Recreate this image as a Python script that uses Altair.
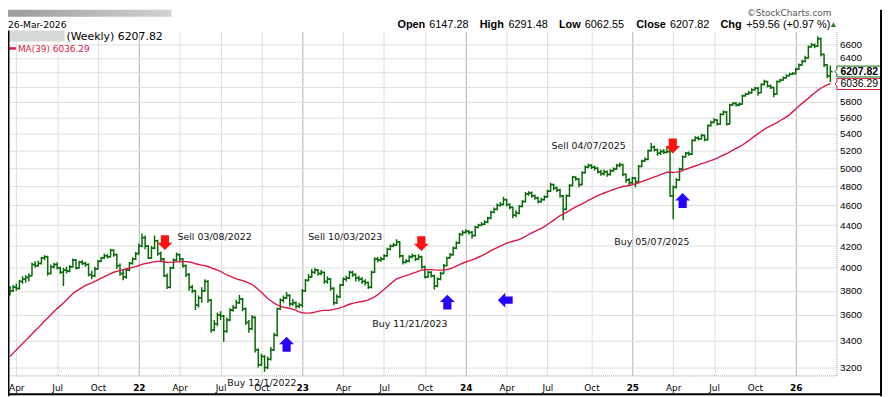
import altair as alt
import pandas as pd

# ---------------- data (weekly bars, weeks starting 2021-03-22) ----------------
start_week = "2021-03-22"

opens = [
    3780, 3800, 3830, 3820, 3880, 3900, 3915, 3930, 4030, 4020,
    4040, 4090, 4100, 3950, 4010, 4030, 4000, 3960, 3980, 3970,
    4010, 4070, 4000, 4050, 4040, 4030, 3940, 3930, 3990, 4060,
    4090, 4110, 4100, 4160, 4120, 4020, 3950, 3920, 3980, 4040,
    4080, 4130, 4200, 4280, 4200, 4090, 4180, 4250, 4130, 4080,
    3930, 3830, 4000, 4070, 4120, 4080, 4020, 3940, 3830, 3800,
    3680, 3740, 3800, 3880, 3720, 3480, 3530, 3600, 3590, 3470,
    3560, 3640, 3660, 3700, 3730, 3650, 3540, 3490, 3580, 3330,
    3220, 3280, 3200, 3260, 3330, 3440, 3650, 3720, 3740, 3760,
    3690, 3700, 3670, 3680, 3800, 3890, 3920, 3960, 3980, 3950,
    3960, 3880, 3900, 3820, 3700, 3750, 3850, 3900, 3910, 3960,
    3940, 3910, 3900, 3880, 3870, 3830, 3960, 4080, 4070, 4080,
    4110, 4170, 4200, 4210, 4240, 4110, 4050, 4060, 4100, 4110,
    4080, 4100, 4010, 3920, 3960, 3930, 3840, 3900, 3950, 4020,
    4090, 4120, 4180, 4230, 4310, 4330, 4340, 4330, 4300, 4380,
    4400, 4410, 4430, 4470, 4530, 4560, 4600, 4610, 4660, 4610,
    4580, 4500, 4520, 4590, 4640, 4720, 4730, 4700, 4680, 4640,
    4660, 4690, 4750, 4820, 4780, 4760, 4700, 4560, 4700, 4810,
    4900, 4880, 4820, 4950, 5010, 5030, 5010, 5000, 4960, 4940,
    4960, 4930, 4970, 4990, 5030, 5040, 4930, 4870, 4840, 4890,
    4850, 5020, 5080, 5100, 5200, 5240, 5210, 5170, 5190, 5180,
    5190, 4700, 4790, 4870, 4990, 5130, 5170, 5160, 5320, 5350,
    5340, 5380, 5330, 5500, 5540, 5570, 5520, 5640, 5670, 5520,
    5760, 5780, 5760, 5770, 5880, 5900, 5920, 5960, 5980, 5920,
    6030, 6070, 6010, 5990, 5900, 6070, 6090, 6120, 6150, 6170,
    6180, 6240, 6300, 6350, 6400, 6560, 6590, 6570, 6680, 6450,
    6300, 6147.28,
]
highs = [
    3840, 3850, 3860, 3895, 3925, 3935, 3950, 4045, 4060, 4065,
    4100, 4115, 4110, 4030, 4045, 4050, 4010, 4000, 4010, 4025,
    4085, 4080, 4065, 4070, 4055, 4040, 3975, 4010, 4070, 4100,
    4130, 4125, 4175, 4170, 4130, 4040, 3990, 4000, 4055, 4095,
    4145, 4225, 4320, 4300, 4210, 4200, 4300, 4260, 4150, 4090,
    3950, 4010, 4085, 4140, 4130, 4090, 4030, 3955, 3850, 3810,
    3760, 3830, 3900, 3890, 3730, 3560, 3620, 3630, 3600, 3580,
    3655, 3680, 3725, 3765, 3740, 3660, 3560, 3600, 3590, 3340,
    3300, 3290, 3280, 3350, 3460, 3660, 3735, 3760, 3790, 3770,
    3730, 3710, 3700, 3815, 3900, 3945, 3990, 4000, 3990, 3980,
    3965, 3925, 3910, 3830, 3770, 3860, 3915, 3930, 3975, 3975,
    3950, 3930, 3920, 3900, 3880, 3975, 4095, 4100, 4100, 4125,
    4185, 4215, 4230, 4265, 4245, 4120, 4080, 4115, 4130, 4120,
    4125, 4110, 4020, 3975, 3970, 3940, 3915, 3965, 4035, 4100,
    4135, 4195, 4245, 4325, 4350, 4360, 4355, 4345, 4395, 4415,
    4430, 4450, 4485, 4545, 4580, 4620, 4635, 4690, 4670, 4620,
    4590, 4550, 4605, 4655, 4740, 4750, 4745, 4715, 4690, 4680,
    4705, 4765, 4840, 4830, 4800, 4775, 4710, 4715, 4825, 4915,
    4910, 4890, 4965, 5030, 5050, 5045, 5030, 5010, 4980, 4985,
    4975, 4990, 5010, 5050, 5060, 5050, 4940, 4890, 4905, 4900,
    5035, 5095, 5120, 5215, 5290, 5260, 5225, 5215, 5220, 5240,
    5215, 4810, 4890, 5005, 5145, 5185, 5190, 5335, 5370, 5370,
    5400, 5390, 5515, 5560, 5590, 5580, 5655, 5690, 5680, 5775,
    5800, 5800, 5795, 5895, 5920, 5945, 5980, 6000, 5995, 6045,
    6095, 6080, 6030, 6000, 6085, 6110, 6140, 6170, 6190, 6200,
    6260, 6320, 6375, 6430, 6580, 6620, 6610, 6720, 6700, 6460,
    6310, 6291.48,
]
lows = [
    3760, 3790, 3800, 3810, 3860, 3870, 3880, 3925, 4000, 4010,
    4030, 4070, 3930, 3940, 3995, 3985, 3945, 3840, 3950, 3960,
    4000, 3985, 3995, 4025, 4010, 3925, 3900, 3920, 3985, 4050,
    4080, 4085, 4095, 4100, 3990, 3930, 3890, 3905, 3970, 4030,
    4070, 4120, 4190, 4170, 4080, 4080, 4170, 4110, 4060, 3920,
    3815, 3820, 3990, 4060, 4060, 4000, 3920, 3800, 3780, 3640,
    3660, 3700, 3790, 3700, 3460, 3470, 3510, 3560, 3390, 3460,
    3550, 3625, 3650, 3690, 3630, 3520, 3460, 3480, 3310, 3200,
    3210, 3170, 3190, 3250, 3320, 3430, 3640, 3700, 3730, 3670,
    3675, 3650, 3655, 3660, 3790, 3880, 3910, 3945, 3930, 3935,
    3860, 3860, 3800, 3680, 3690, 3740, 3840, 3880, 3900, 3920,
    3880, 3880, 3860, 3845, 3815, 3820, 3955, 4050, 4055, 4070,
    4100, 4160, 4190, 4200, 4090, 4030, 4040, 4050, 4085, 4060,
    4070, 3990, 3905, 3910, 3915, 3810, 3830, 3890, 3945, 4015,
    4085, 4110, 4170, 4220, 4300, 4320, 4310, 4270, 4290, 4370,
    4390, 4400, 4420, 4460, 4520, 4550, 4590, 4600, 4590, 4560,
    4470, 4480, 4510, 4580, 4630, 4700, 4680, 4660, 4620, 4625,
    4650, 4680, 4740, 4760, 4740, 4680, 4450, 4550, 4690, 4800,
    4860, 4790, 4810, 4940, 5000, 4990, 4975, 4940, 4915, 4920,
    4905, 4920, 4960, 4980, 5010, 4910, 4840, 4810, 4820, 4790,
    4840, 5010, 5070, 5090, 5190, 5190, 5140, 5150, 5160, 5170,
    4690, 4460, 4780, 4860, 4980, 5120, 5140, 5150, 5310, 5320,
    5330, 5310, 5320, 5490, 5530, 5500, 5510, 5630, 5500, 5515,
    5750, 5740, 5745, 5765, 5870, 5890, 5910, 5950, 5880, 5915,
    6020, 5990, 5970, 5860, 5895, 6060, 6080, 6110, 6140, 6160,
    6170, 6230, 6290, 6340, 6390, 6550, 6540, 6560, 6420, 6270,
    6120, 6062.55,
]
closes = [
    3800, 3830, 3820, 3880, 3900, 3915, 3930, 4030, 4020, 4040,
    4090, 4100, 3950, 4010, 4030, 4000, 3960, 3980, 3970, 4010,
    4070, 4000, 4050, 4040, 4030, 3940, 3930, 3990, 4060, 4090,
    4110, 4100, 4160, 4120, 4020, 3950, 3920, 3980, 4040, 4080,
    4130, 4200, 4280, 4200, 4090, 4180, 4250, 4130, 4080, 3930,
    3830, 4000, 4070, 4120, 4080, 4020, 3940, 3830, 3800, 3680,
    3740, 3800, 3880, 3720, 3480, 3530, 3600, 3590, 3470, 3560,
    3640, 3660, 3700, 3730, 3650, 3540, 3490, 3580, 3330, 3220,
    3280, 3200, 3260, 3330, 3440, 3650, 3720, 3740, 3760, 3690,
    3700, 3670, 3680, 3800, 3890, 3920, 3960, 3980, 3950, 3960,
    3880, 3900, 3820, 3700, 3750, 3850, 3900, 3910, 3960, 3940,
    3910, 3900, 3880, 3870, 3830, 3960, 4080, 4070, 4080, 4110,
    4170, 4200, 4210, 4240, 4110, 4050, 4060, 4100, 4110, 4080,
    4100, 4010, 3920, 3960, 3930, 3840, 3900, 3950, 4020, 4090,
    4120, 4180, 4230, 4310, 4330, 4340, 4330, 4300, 4380, 4400,
    4410, 4430, 4470, 4530, 4560, 4600, 4610, 4660, 4610, 4580,
    4500, 4520, 4590, 4640, 4720, 4730, 4700, 4680, 4640, 4660,
    4690, 4750, 4820, 4780, 4760, 4700, 4560, 4700, 4810, 4900,
    4880, 4820, 4950, 5010, 5030, 5010, 5000, 4960, 4940, 4960,
    4930, 4970, 4990, 5030, 5040, 4930, 4870, 4840, 4890, 4850,
    5020, 5080, 5100, 5200, 5240, 5210, 5170, 5190, 5180, 5190,
    4700, 4790, 4870, 4990, 5130, 5170, 5160, 5320, 5350, 5340,
    5380, 5330, 5500, 5540, 5570, 5520, 5640, 5670, 5520, 5760,
    5780, 5760, 5770, 5880, 5900, 5920, 5960, 5980, 5920, 6030,
    6070, 6010, 5990, 5900, 6070, 6090, 6120, 6150, 6170, 6180,
    6240, 6300, 6350, 6400, 6560, 6590, 6570, 6680, 6450, 6300,
    6148.26, 6207.82,
]
# 38 weekly closes before the first visible bar (only feed the 39-week MA)
warmup_closes = [
    2880, 2910, 2950, 2940, 2980, 3010, 3030, 3060, 3080, 3110,
    3050, 3000, 2990, 3040, 3060, 3080, 3020, 3050, 2950, 3010,
    3300, 3360, 3390, 3420, 3450, 3470, 3510, 3530, 3540, 3580,
    3600, 3620, 3660, 3690, 3640, 3700, 3720, 3760,
]

# axis ticks (first weekly bar of Apr / Jul / Oct / Jan)
month_ticks = [
    "2021-04-05", "2021-07-05", "2021-10-04", "2022-01-03", "2022-04-04",
    "2022-07-04", "2022-10-03", "2023-01-02", "2023-04-03", "2023-07-03",
    "2023-10-02", "2024-01-01", "2024-04-01", "2024-07-01", "2024-10-07",
    "2025-01-06", "2025-04-07", "2025-07-07", "2025-10-06", "2026-01-05",
]
price_ticks = [3200, 3400, 3600, 3800, 4000, 4200, 4400, 4600, 4800,
               5000, 5200, 5400, 5600, 5800, 6000, 6200, 6400, 6600]
hidden_price_labels = [6000, 6200]   # covered by the value tags in the original
x_domain = ["2021-03-17T14:00:00", "2026-04-05T12:30:00"]
y_domain = [3144, 6789]

# signal arrows
arrow_dates = ["2022-03-02", "2023-09-24", "2023-11-21", "2024-03-29",
               "2022-11-28", "2025-04-06", "2025-04-28"]
arrow_values = [4232, 4223, 3705, 3721, 3371, 5254, 4651]
arrow_kinds = ["down", "down", "up", "left", "up", "down", "up"]

# signal labels
label_dates = ["2022-03-30", "2023-01-15", "2023-06-07", "2022-07-19",
               "2024-07-10", "2024-11-27"]
label_values = [4289, 4289, 3528, 3088, 5260, 4237]
label_texts = ["Sell 03/08/2022", "Sell 10/03/2023", "Buy 11/21/2023",
               "Buy 12/1/2022", "Sell 04/07/2025", "Buy 05/07/2025"]

ma_last = 6036.29

# ---------------- build tables ----------------
def to_ms(d):
    return (pd.DatetimeIndex(pd.to_datetime(d)).as_unit("ns").asi8 // 10**6).tolist()

n = len(closes)
dates = pd.date_range(start_week, periods=n, freq="7D")
wdates = pd.date_range(end=dates[0] - pd.Timedelta(days=7), periods=len(warmup_closes), freq="7D")

rows = []
for t, c in zip(to_ms(wdates), warmup_closes):
    rows.append({"t": t, "close": c, "show": 0})
for t, o, h, l, c in zip(to_ms(dates), opens, highs, lows, closes):
    rows.append({"t": t, "open": o, "high": h, "low": l, "close": c, "show": 1})
df = pd.DataFrame(rows)

shape_paths = {
    "down": "M-0.55,-1 L0.55,-1 L0.55,0 L1,0 L0,1 L-1,0 L-0.55,0 Z",
    "up": "M-0.55,1 L0.55,1 L0.55,0 L1,0 L0,-1 L-1,0 L-0.55,0 Z",
    "left": "M1,-0.5 L1,0.5 L0,0.5 L0,1 L-1,0 L0,-1 L0,-0.5 Z",
}
shape_cols = {"down": "#ff1010", "up": "#2600ff", "left": "#2600ff"}
arrows = pd.DataFrame({
    "t": to_ms(arrow_dates), "v": arrow_values,
    "path": [shape_paths[k] for k in arrow_kinds],
    "col": [shape_cols[k] for k in arrow_kinds],
})
labels = pd.DataFrame({"t": to_ms(label_dates), "v": label_values, "label": label_texts})

GREEN = "#0a6a0a"
RED = "#dc1845"
W, H = 836, 347

xscale = alt.Scale(type="utc", domain=to_ms(x_domain))
yscale = alt.Scale(type="log", domain=y_domain, nice=False, zero=False)

year_test = "utcmonth(datum.value) == 0"
xaxis = alt.Axis(
    values=to_ms(month_ticks), title=None, orient="bottom",
    labelExpr="utcmonth(datum.value) == 0 ? utcFormat(datum.value, '%y') : utcFormat(datum.value, '%b')",
    labelFontWeight={"condition": {"test": year_test, "value": "bold"}, "value": "normal"},
    gridColor={"condition": {"test": year_test, "value": "#b2b2b2"}, "value": "#dedede"},
    grid=True, ticks=False, domainColor="#9a9a9a", domainDash=[1, 1],
    labelFont="DejaVu Sans", labelFontSize=9, labelColor="#000", labelPadding=8,
    labelOverlap=False, labelFlush=False,
)
hide_test = " || ".join(f"datum.value == {v}" for v in hidden_price_labels)
yaxis = alt.Axis(
    values=price_ticks, format="d", title=None, orient="right",
    labelExpr=f"({hide_test}) ? '' : datum.label",
    grid=True, gridColor="#dedede", ticks=False, domainColor="#9a9a9a", domainDash=[1, 1],
    labelFont="Liberation Sans", labelFontSize=10, labelColor="#000", labelPadding=3,
    labelOverlap=False,
)

def X(field="t"):
    return alt.X(f"{field}:T", scale=xscale, axis=xaxis)

def Y(field):
    return alt.Y(f"{field}:Q", scale=yscale, axis=yaxis)

bars = alt.Chart(df).transform_filter("datum.show == 1")

hl = bars.mark_rule(color=GREEN, strokeWidth=1.5).encode(x=X(), y=Y("low"), y2="high:Q")
op = bars.mark_rule(color=GREEN, strokeWidth=1.5, xOffset=-2.2, x2Offset=0).encode(
    x=X(), x2="t:T", y=Y("open"))
cl = bars.mark_rule(color=GREEN, strokeWidth=1.5, xOffset=0, x2Offset=2.2).encode(
    x=X(), x2="t:T", y=Y("close"))

ma = (
    alt.Chart(df)
    .transform_window(ma="mean(close)", frame=[-38, 0], sort=[{"field": "t"}])
    .transform_filter("datum.show == 1")
    .mark_line(color=RED, strokeWidth=1.4)
    .encode(x=X(), y=Y("ma"))
)

arrow_layer = alt.Chart(arrows).mark_point(filled=True, size=225, opacity=1).encode(
    x=X(), y=Y("v"),
    shape=alt.Shape("path:N", scale=None),
    color=alt.Color("col:N", scale=None),
)
label_layer = alt.Chart(labels).mark_text(
    align="left", baseline="middle", font="DejaVu Sans", fontSize=9.5, color="#111"
).encode(x=X(), y=Y("v"), text="label:N")

one = alt.Data(values=[{"k": 0}])

def txt(s, x, y, size, weight="normal", color="#000", font="Liberation Sans", align="left"):
    return alt.Chart(one).mark_text(
        text=s, align=align, baseline="alphabetic", font=font, fontSize=size,
        fontWeight=weight, color=color,
    ).encode(x=alt.value(x), y=alt.value(y))

def box(x1, x2, y1, y2, color):
    return alt.Chart(one).mark_rect(color=color).encode(
        x=alt.value(x1), x2=alt.value(x2), y=alt.value(y1), y2=alt.value(y2))

grad_top = alt.LinearGradient(
    gradient="linear", x1=0, x2=1, y1=0, y2=0,
    stops=[alt.GradientStop(color="#9c9c9c", offset=0), alt.GradientStop(color="#d2d2d2", offset=1)],
)

last = n - 1
chg = closes[last] - closes[last - 1]
header = [
    box(0, 165, -22, -15, grad_top),
    txt("26-Mar-2026", 0, -4, 9.3, font="DejaVu Sans"),
    txt("\u00a9StockCharts.com", 831, -15.5, 9, color="#555", font="DejaVu Sans", align="right"),
    txt("Open", 393, -3.5, 11, weight="bold"),
    txt(f"{opens[last]:.2f}", 425, -3.5, 11),
    txt("High", 476, -3.5, 11, weight="bold"),
    txt(f"{highs[last]:.2f}", 505, -3.5, 11),
    txt("Low", 556, -3.5, 11, weight="bold"),
    txt(f"{lows[last]:.2f}", 582, -3.5, 11),
    txt("Close", 634, -3.5, 11, weight="bold"),
    txt(f"{closes[last]:.2f}", 668, -3.5, 11),
    txt("Chg", 719, -3.5, 11, weight="bold"),
    txt(f"+{chg:.2f} (+{chg / closes[last - 1] * 100:.2f} %)", 745, -3.5, 11),
    alt.Chart(one).mark_point(shape="triangle-up", filled=True, size=28, color="#2a7a2a", opacity=1)
    .encode(x=alt.value(833), y=alt.value(-7)),
    box(0, 57, -1, 10, "#d6dad6"),
    txt(f"(Weekly) {closes[last]:.2f}", 59, 9, 11, font="DejaVu Sans"),
    alt.Chart(one).mark_rule(color=RED, strokeWidth=2.5).encode(
        x=alt.value(1), x2=alt.value(8), y=alt.value(17)),
    txt(f"MA(39) {ma_last:.2f}", 10, 21, 9, color=RED, font="DejaVu Sans"),
]

tag_path = "M-1,-0.25 L1,-0.25 L1,0.25 L-1,0.25 L-1,0.09 L-1.09,0 L-1,-0.09 Z"
tags_df = pd.DataFrame({
    "v": [closes[last], ma_last],
    "label": [f"{closes[last]:.2f}", f"{ma_last:.2f}"],
})
tag_close = alt.Chart(tags_df.iloc[[0]]).mark_point(
    shape=tag_path, size=1936, filled=False, fill="white", stroke=GREEN, strokeWidth=1, opacity=1
).encode(x=alt.value(858.5), y=Y("v"))
tag_ma = alt.Chart(tags_df.iloc[[1]]).mark_point(
    shape=tag_path, size=1936, filled=False, fill="white", stroke=RED, strokeWidth=1, opacity=1
).encode(x=alt.value(858.5), y=Y("v"))
tag_close_txt = alt.Chart(tags_df.iloc[[0]]).mark_text(
    align="left", baseline="middle", font="Liberation Sans", fontSize=10.5, fontWeight="bold", color="#000"
).encode(x=alt.value(840), y=Y("v"), text="label:N")
tag_ma_txt = alt.Chart(tags_df.iloc[[1]]).mark_text(
    align="left", baseline="middle", font="Liberation Sans", fontSize=10.5, color="#000"
).encode(x=alt.value(840), y=Y("v"), text="label:N")

frame = [
    alt.Chart(one).mark_rule(color="#000", strokeWidth=2).encode(
        x=alt.value(881), y=alt.value(-22), y2=alt.value(368)),
    alt.Chart(one).mark_rule(color="#000", strokeWidth=2).encode(
        x=alt.value(0), x2=alt.value(882), y=alt.value(366)),
    alt.Chart(one).mark_rule(color="#000", strokeWidth=1.5).encode(
        x=alt.value(0.75), y=alt.value(-1), y2=alt.value(368)),
]

chart = alt.layer(
    hl, op, cl, ma, arrow_layer, label_layer,
    tag_close, tag_ma, tag_close_txt, tag_ma_txt,
    *header, *frame,
).properties(
    width=W, height=H,
    padding={"left": 0, "top": 22, "right": 47, "bottom": 20},
    autosize=alt.AutoSizeParams(type="none"),
    background="white",
).configure_view(stroke=None)

chart.save("out.html", embed_options={"renderer": "svg", "actions": False})
